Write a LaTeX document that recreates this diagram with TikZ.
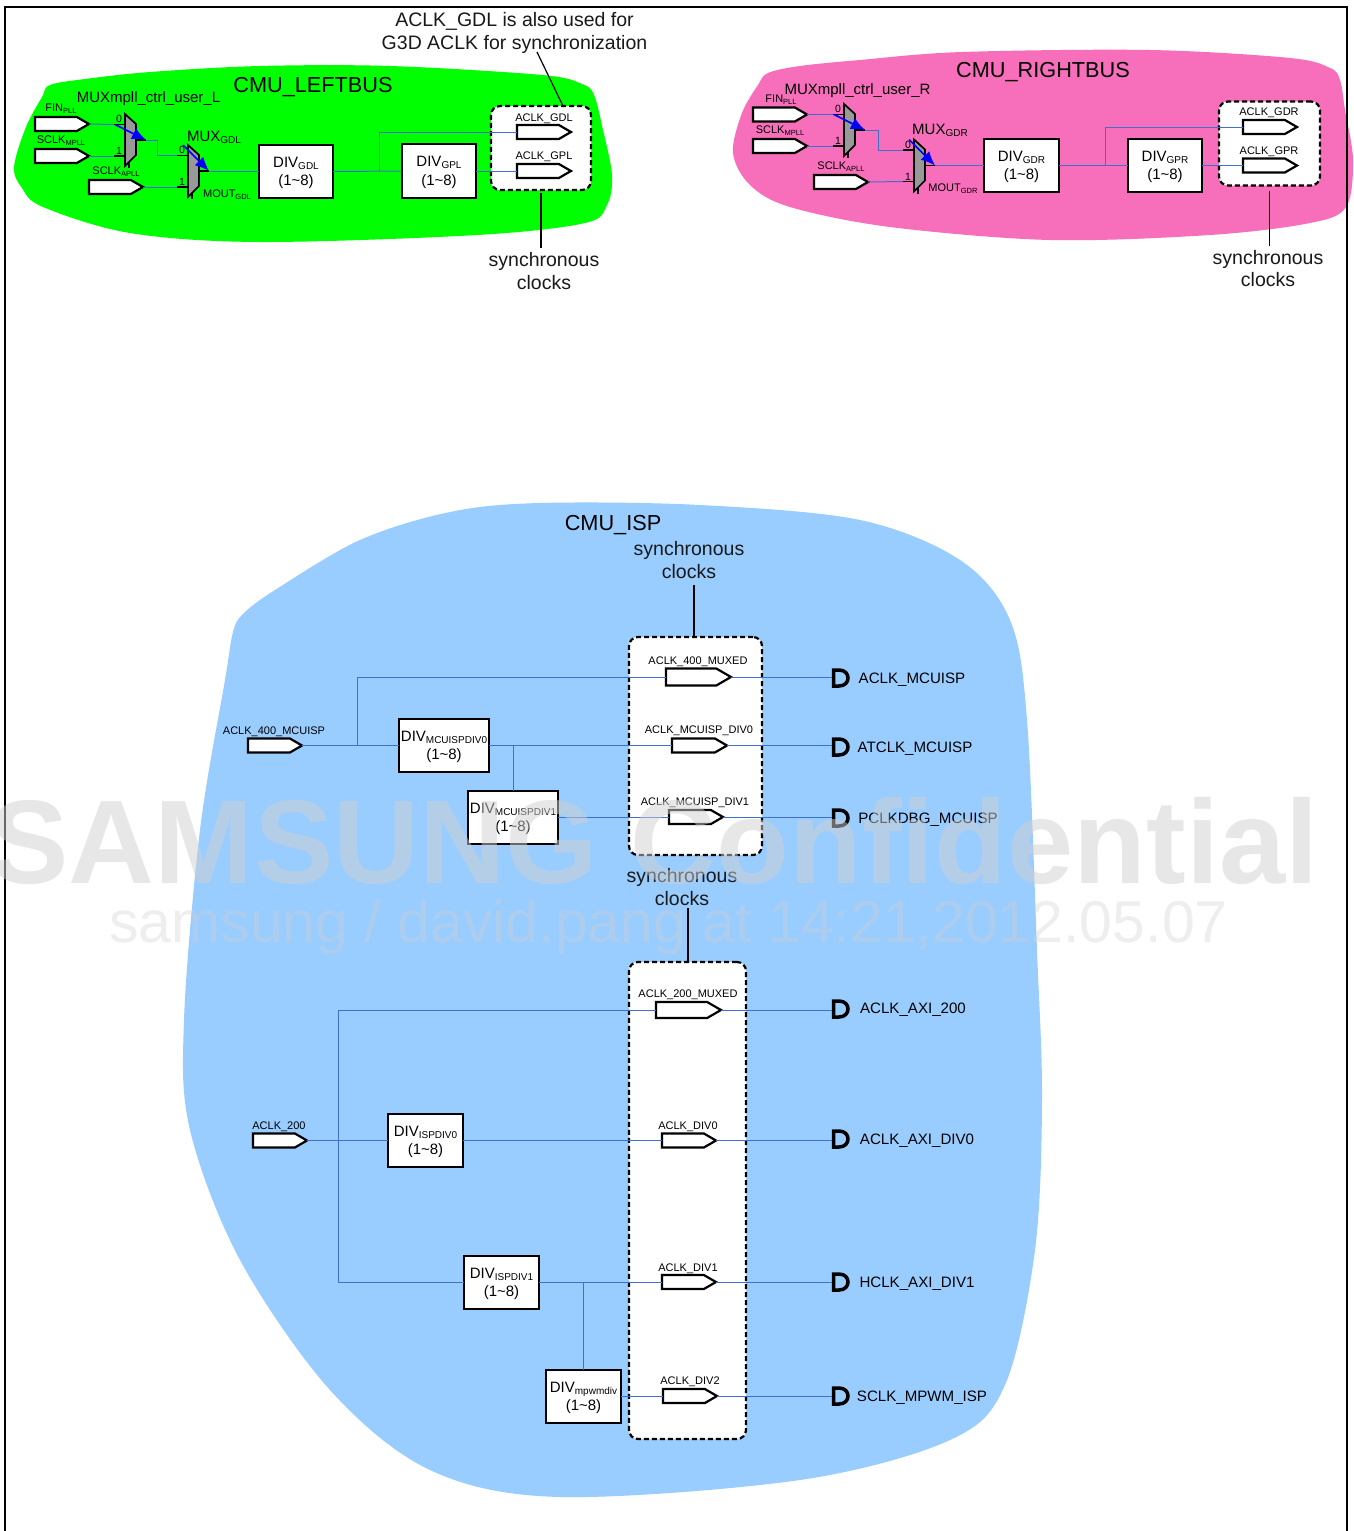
\documentclass[tikz,border=0pt]{standalone}
\usepackage{fontspec}
\setmainfont{Liberation Sans}
\usetikzlibrary{shapes.symbols,arrows.meta,calc}
\definecolor{wire}{HTML}{3F70D0}
\definecolor{greenb}{HTML}{00FF00}
\definecolor{pinkb}{HTML}{F76FBA}
\definecolor{blueb}{HTML}{99CCFF}
\definecolor{muxg}{HTML}{999999}
\newcommand\sbx[2]{\raisebox{-2.2pt}{\fontsize{#1}{#1}\selectfont #2}}
\newcommand\rng{(1\char126 8)}
\newcommand\dv[1]{\rule{0pt}{13pt}DIV\sbx{10}{#1}\\\rng}
\tikzset{
  x=1pt,y=-1pt,
  txt/.style={inner sep=0pt,outer sep=0pt,text=black,font=\fontsize{#1}{#1}\selectfont},
  lab11/.style={txt=11,yshift=-2pt},
  lab15/.style={txt=15.1,yshift=-2pt},
  notetext/.style={inner sep=0pt,outer sep=0pt,align=center,text=black!90,font=\fontsize{19.5}{22.7}\selectfont},
  titletext/.style={txt=21.7,yshift=-2pt},
  wireline/.style={draw=wire,line width=1pt},
  noteline/.style={draw=black,line width=1.2pt},
  portn/.style={signal,signal from=nowhere,signal to=east,signal pointer angle=60,draw=black,fill=white,line width=2.2pt,inner sep=0pt,outer sep=0pt,anchor=west},
  divbox/.style={draw=black,fill=white,line width=2.2pt,inner sep=0pt,outer sep=0pt,align=center,font=\fontsize{15}{18.5}\selectfont},
  dashbox/.style={draw=black,fill=white,line width=2.2pt,dash pattern=on 5pt off 3pt,rounded corners=9pt},
  muxarrow/.style={draw=blue,line width=1.6pt,-{Latex[length=14pt,width=12pt]}},
  muxpoly/.style={draw=black,fill=muxg,line width=1.7pt},
  dshape/.style={draw=black,line width=3.5pt}
}
\newcommand\prt[5]{\node[portn,minimum width=#4pt,minimum height=#5pt] (#1) at (#2,#3) {};}
\newcommand\dpt[3]{\coordinate (#1) at (#2,#3);
  \draw[dshape,shift={(#2,#3)}] (1.5,-8) -- (7,-8) .. controls (19,-8) and (19,8) .. (7,8) -- (1.5,8) -- cycle;}
\newcommand\muxs[3]{%
  \coordinate (#1-in0) at (#2-11,#3+10.5);
  \coordinate (#1-in1) at (#2-11,#3+42);
  \coordinate (#1-out) at (#2+21,#3+26);
  \coordinate (#1-st) at (#2-5,#3);
  \draw[black,line width=1.2pt] (#2-11,#3+10.5) -- (#2,#3+10.5) (#2-11,#3+42) -- (#2,#3+42)
     (#2+11,#3+26) -- (#2+21,#3+26) (#2+4,#3+46) -- (#2+4,#3+54);
  \draw[muxpoly] (#2,#3) -- (#2+11,#3+10) -- (#2+11,#3+41) -- (#2,#3+52) -- cycle;
  \node[txt=10.5] (#1-n0) at (#2-6,#3+5) {0};
  \node[txt=10.5] (#1-n1) at (#2-6,#3+37) {1};
}
\begin{document}
\begin{tikzpicture}
\useasboundingbox (0,0) rectangle (1354,1531);
\fill[white] (0,0) rectangle (1354,1531);
\clip (0,0) rectangle (1354,1531);

% regions
\fill[greenb] plot[smooth cycle,tension=0.55] coordinates {(50,85) (85,79) (150,72) (260,66) (390,66) (542,75) (582,84) (594,95) (603,130) (612,175) (607,205) (585,223) (477,235) (260,242) (130,233) (43,207) (22,188) (14,167) (26,127) (42,97)};
\fill[pinkb] plot[smooth cycle,tension=0.55] coordinates {(768,73) (800,66) (860,60) (962,52) (1150,50) (1290,58) (1330,68) (1340,80) (1345,110) (1353,160) (1346,207) (1310,223) (1210,235) (1050,240) (890,227) (790,207) (750,185) (733,153) (742,113) (758,85)};
\fill[blueb] plot[smooth cycle,tension=0.55] coordinates {(243,614) (275,590) (360,540) (450,512) (540,503) (700,505) (860,520) (960,560) (1010,620) (1027,720) (1037,950) (1042,1100) (1035,1250) (1005,1385) (950,1440) (800,1480) (560,1497) (430,1470) (330,1390) (240,1260) (190,1130) (184,1020) (200,830) (225,680) (233,632)};

\draw[black,line width=1.8pt] (5,1540) -- (5,7) -- (1347,7) -- (1347,1540);

% dashed groups
\node[dashbox,minimum width=100pt,minimum height=84pt,inner sep=0pt,outer sep=0pt] (dashL) at (541,148) {};
\node[dashbox,minimum width=101pt,minimum height=84pt,inner sep=0pt,outer sep=0pt] (dashR) at (1269.5,143.5) {};
\node[dashbox,minimum width=133pt,minimum height=218pt,inner sep=0pt,outer sep=0pt] (dashA) at (695.5,746) {};
\node[dashbox,minimum width=117pt,minimum height=477pt,inner sep=0pt,outer sep=0pt] (dashB) at (687.5,1200.5) {};

% LEFTBUS
\prt{lfin}{35}{124}{54}{14}
\prt{lmpll}{35}{156}{54}{14}
\prt{lapll}{89}{187}{54}{14}
\prt{lgdl}{517}{132}{54}{14}
\prt{lgpl}{517}{171}{54}{14}
\muxs{lma}{125}{114}
\muxs{lmb}{188}{145}
\node[divbox,minimum width=74pt,minimum height=53pt] (ldiva) at (296,171.5) {\dv{GDL}};
\node[divbox,minimum width=74pt,minimum height=54pt] (ldivb) at (439,171) {\dv{GPL}};
\draw[wireline] (lfin.east) -- (lma-in0);
\draw[wireline] (lmpll.east) -- (lma-in1);
\draw[wireline] (lapll.east) -- (lmb-in1);
\draw[wireline] (lma-out) -- ++(11,0) |- (lmb-in0);
\draw[wireline] (lmb-out) -- (ldiva.west |- lmb-out);
\draw[wireline] (ldiva.east) -- (ldivb.west);
\draw[wireline] (379,171) |- (lgdl.west);
\draw[wireline] (ldivb.east) -- (lgpl.west);
\draw[muxarrow] (lma-in0) ++(1,0) -- (lma-out);
\draw[muxarrow] (lmb-st) -- (lmb-out);
\node[titletext] (ltitle) at (313,85) {CMU\_LEFTBUS};
\node[txt=15] (lmuxa) at (148.5,99) {MUXmpll\_ctrl\_user\_L};
\node[txt=15] (lmuxb) at (214,137.5) {MUX\sbx{10}{GDL}};
\node[txt=11] (lmout) at (227,195) {MOUT\sbx{7.5}{GDL}};
\node[txt=11] (tfin) at (61,109) {FIN\sbx{7.5}{PLL}};
\node[txt=11] (tmpll) at (61,141) {SCLK\sbx{7.5}{MPLL}};
\node[txt=11] (tapll) at (116,172) {SCLK\sbx{7.5}{APLL}};
\node[lab11] (tgdl) at (544,117) {ACLK\_GDL};
\node[lab11] (tgpl) at (544,155) {ACLK\_GPL};
\node[notetext] (noteT) at (514.5,33) {ACLK\_GDL is also used for\\G3D ACLK for synchronization};
\coordinate (noteTa) at (537,52);
\draw[noteline] (noteTa) -- (dashL.north -| 563,0);
\node[notetext] (syncL) at (544,271) {synchronous\\clocks};
\draw[noteline] (dashL.south) ++(0,3) -- (541,248);

% RIGHTBUS
\prt{rfin}{753}{114.5}{54}{14}
\prt{rmpll}{753}{146}{54}{14}
\prt{rapll}{814}{182}{54}{14}
\prt{rgdr}{1243}{127}{54}{14}
\prt{rgpr}{1243}{165.5}{54}{14}
\muxs{rma}{844}{104}
\muxs{rmb}{914}{139.5}
\node[divbox,minimum width=75pt,minimum height=53pt] (rdiva) at (1021.5,165.5) {\dv{GDR}};
\node[divbox,minimum width=74pt,minimum height=53pt] (rdivb) at (1165,165.5) {\dv{GPR}};
\draw[wireline] (rfin.east) -- (rma-in0);
\draw[wireline] (rmpll.east) -- (rma-in1);
\draw[wireline] (rapll.east) -- (rmb-in1);
\draw[wireline] (rma-out) -- ++(13,0) |- (rmb-in0);
\draw[wireline] (rmb-out) -- (rdiva.west |- rmb-out);
\draw[wireline] (rdiva.east) -- (rdivb.west);
\draw[wireline] (1105,165.5) |- (rgdr.west);
\draw[wireline] (rdivb.east) -- (rgpr.west);
\draw[muxarrow] (rma-in0) ++(1,0) -- (rma-out);
\draw[muxarrow] (rmb-st) -- (rmb-out);
\node[titletext] (rtitle) at (1043,70) {CMU\_RIGHTBUS};
\node[txt=15] (rmuxa) at (857.5,91) {MUXmpll\_ctrl\_user\_R};
\node[txt=15] (rmuxb) at (940,130.5) {MUX\sbx{10}{GDR}};
\node[txt=11] (rmout) at (953,189) {MOUT\sbx{7.5}{GDR}};
\node[txt=11] (rtfin) at (781,99.5) {FIN\sbx{7.5}{PLL}};
\node[txt=11] (rtmpll) at (780,131) {SCLK\sbx{7.5}{MPLL}};
\node[txt=11] (rtapll) at (841,167) {SCLK\sbx{7.5}{APLL}};
\node[lab11] (tgdr) at (1269,111) {ACLK\_GDR};
\node[lab11] (tgpr) at (1269,150) {ACLK\_GPR};
\node[notetext] (syncR) at (1268,268.5) {synchronous\\clocks};
\draw[noteline] (dashR.south) ++(0,5) -- (1269.5,246);

% ISP upper
\node[titletext] (ititle) at (613,523) {CMU\_ISP};
\node[notetext] (syncA) at (689,560) {synchronous\\clocks};
\draw[noteline] (694,585) -- (694,637);
\prt{aa}{248}{745.5}{54}{14}
\prt{ab}{666}{677}{65}{17}
\prt{ac}{672}{745.5}{55}{14}
\prt{ad}{669}{817}{54}{14}
\node[divbox,minimum width=90pt,minimum height=53pt] (adiva) at (444,745.5) {\dv{MCUISPDIV0}};
\node[divbox,minimum width=90pt,minimum height=53pt] (adivb) at (513,817.5) {\dv{MCUISPDIV1}};
\dpt{da}{832}{678}
\dpt{db}{832}{747}
\dpt{dc}{832}{818}
\draw[wireline] (aa.east) -- (adiva.west);
\draw[wireline] (357,745.5) |- (ab.west);
\draw[wireline] (ab.east) -- (da |- ab.east);
\draw[wireline] (adiva.east) -- (ac.west);
\draw[wireline] (ac.east) -- (db |- ac.east);
\draw[wireline] (513,745.5) -- (adivb.north);
\draw[wireline] (adivb.east |- ad.west) -- (ad.west);
\draw[wireline] (ad.east) -- (dc |- ad.east);
\node[lab11] (t1) at (274,730) {ACLK\_400\_MCUISP};
\node[lab11] (t2) at (698,660) {ACLK\_400\_MUXED};
\node[lab11] (t3) at (699,729) {ACLK\_MCUISP\_DIV0};
\node[lab11] (t4) at (695,801) {ACLK\_MCUISP\_DIV1};
\node[lab15] (o1) at (912,678) {ACLK\_MCUISP};
\node[lab15] (o2) at (915,747) {ATCLK\_MCUISP};
\node[lab15] (o3) at (928,818) {PCLKDBG\_MCUISP};

% ISP lower
\node[notetext] (syncB) at (682,887) {synchronous\\clocks};
\draw[noteline] (688,908) -- (688,962);
\prt{ba}{253}{1140.5}{54}{14}
\prt{bb}{656}{1010}{65}{16}
\prt{bc}{662}{1140.5}{54}{14}
\prt{bd}{662}{1282}{54}{14}
\prt{be}{663}{1396}{54}{14}
\node[divbox,minimum width=75pt,minimum height=53pt] (bdiva) at (425.5,1140.5) {\dv{ISPDIV0}};
\node[divbox,minimum width=75pt,minimum height=53pt] (bdivb) at (501.5,1282.5) {\dv{ISPDIV1}};
\node[divbox,minimum width=75pt,minimum height=53pt] (bdivc) at (583.5,1396.5) {\dv{mpwmdiv}};
\dpt{ea}{832}{1009}
\dpt{eb}{832}{1139}
\dpt{ec}{832}{1282}
\dpt{ed}{832}{1396}
\draw[wireline] (ba.east) -- (bdiva.west);
\draw[wireline] (bdiva.east) -- (bc.west);
\draw[wireline] (bc.east) -- (eb |- bc.east);
\draw[wireline] (bb.west) -| (338,1282) -- (bdivb.west |- bd.west);
\draw[wireline] (bb.east) -- (ea |- bb.east);
\draw[wireline] (bdivb.east |- bd.west) -- (bd.west);
\draw[wireline] (bd.east) -- (ec);
\draw[wireline] (583,1282) -- (bdivc.north -| 583,0);
\draw[wireline] (bdivc.east |- be.west) -- (be.west);
\draw[wireline] (be.east) -- (ed);
\node[lab11] (s1) at (279,1125) {ACLK\_200};
\node[lab11] (s2) at (688,993) {ACLK\_200\_MUXED};
\node[lab11] (s3) at (688,1125) {ACLK\_DIV0};
\node[lab11] (s4) at (688,1267) {ACLK\_DIV1};
\node[lab11] (s5) at (690,1380) {ACLK\_DIV2};
\node[lab15] (p1) at (913,1008) {ACLK\_AXI\_200};
\node[lab15] (p2) at (917,1139) {ACLK\_AXI\_DIV0};
\node[lab15] (p3) at (917,1282) {HCLK\_AXI\_DIV1};
\node[lab15] (p4) at (922,1396) {SCLK\_MPWM\_ISP};

% watermark
\definecolor{wm}{HTML}{D1D1D1}
\node[inner sep=0pt,text=wm,text opacity=0.5,font=\fontsize{119}{119}\selectfont\bfseries] (wma) at (654,841) {SAMSUNG Confidential};
\node[inner sep=0pt,text=wm,text opacity=0.36,font=\fontsize{59}{59}\selectfont] (wmb) at (668.5,927) {samsung / david.pang at 14:21,2012.05.07};
\end{tikzpicture}
\end{document}
